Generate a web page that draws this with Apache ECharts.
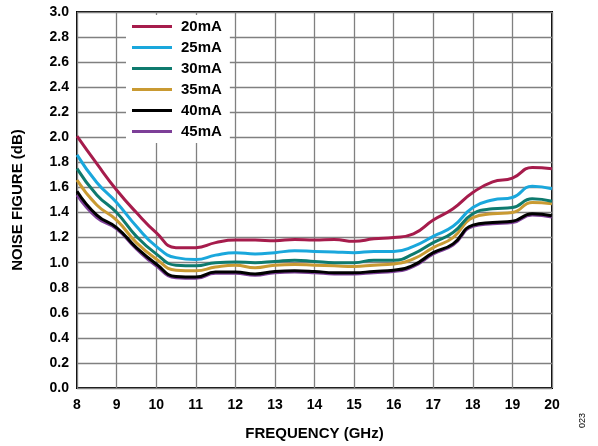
<!DOCTYPE html>
<html><head><meta charset="utf-8">
<script src="https://cdn.jsdelivr.net/npm/echarts@6/dist/echarts.min.js"></script>
<style>html,body{margin:0;padding:0;background:#fff}#c{width:598px;height:446px}</style>
</head><body><div id="c"></div>
<script>
var freqs = [8,8.5,9,9.5,10,10.5,11,11.5,12,12.5,13,13.5,14,14.5,15,15.5,16,16.5,17,17.5,18,18.5,19,19.5,20];
var nf20 = [2.01,1.79,1.58,1.40,1.24,1.12,1.12,1.16,1.18,1.18,1.175,1.185,1.18,1.185,1.17,1.19,1.20,1.23,1.34,1.43,1.56,1.645,1.675,1.76,1.75];
var nf25 = [1.86,1.64,1.48,1.29,1.13,1.04,1.025,1.06,1.08,1.07,1.08,1.095,1.09,1.085,1.08,1.09,1.09,1.13,1.21,1.29,1.44,1.50,1.52,1.61,1.59];
var nf30 = [1.75,1.54,1.40,1.21,1.07,0.98,0.975,1.00,1.005,1.00,1.01,1.02,1.01,1.00,1.00,1.02,1.02,1.07,1.16,1.24,1.39,1.43,1.44,1.51,1.49];
var nf35 = [1.66,1.46,1.34,1.16,1.03,0.94,0.935,0.965,0.98,0.96,0.98,0.985,0.98,0.975,0.97,0.98,0.99,1.03,1.12,1.20,1.36,1.39,1.40,1.48,1.47];
var nf40 = [1.57,1.38,1.28,1.12,0.99,0.89,0.885,0.925,0.925,0.91,0.93,0.935,0.93,0.92,0.92,0.93,0.94,0.98,1.08,1.15,1.30,1.32,1.33,1.39,1.375];
var nf45 = [1.54,1.36,1.27,1.11,0.975,0.88,0.875,0.915,0.915,0.90,0.92,0.925,0.92,0.91,0.91,0.92,0.93,0.97,1.07,1.14,1.29,1.31,1.32,1.38,1.365];
var names = ['20mA','25mA','30mA','35mA','40mA','45mA'];
var colors = ['#A61C4C','#1AA7DC','#0E7A6E','#C99A32','#000000','#7D3F98'];

function pairs(v){ return freqs.map(function(f,i){ return [f, v[i]]; }); }
var allData = [nf20, nf25, nf30, nf35, nf40, nf45];
var zs = [6,5,4,3,2,1];
var series = names.map(function(n,i){
  return {name:n, type:'line', data:pairs(allData[i]), smooth:0.5, showSymbol:false, symbol:'none',
    lineStyle:{color:colors[i], width:3}, itemStyle:{color:colors[i]}, z:zs[i]};
});

var chart = echarts.init(document.getElementById('c'), null, {renderer:'canvas'});
var font = 'Liberation Sans, Arial, sans-serif';
chart.setOption({
  animation:false,
  backgroundColor:'#fff',
  grid:{left:77, right:46, top:12, bottom:57, show:true, borderColor:'#000', borderWidth:2},
  legend:{
    data:names, orient:'vertical', left:126, top:15, backgroundColor:'#fff',
    padding:[4,8,4,6], icon:'rect', itemWidth:40, itemHeight:3, itemGap:6,
    textStyle:{fontFamily:font, fontWeight:'bold', fontSize:15, color:'#000', padding:[0,0,0,4], lineHeight:15}
  },
  xAxis:{type:'value', min:8, max:20, interval:1,
    name:'FREQUENCY (GHz)', nameLocation:'middle', nameGap:38,
    nameTextStyle:{fontFamily:font, fontWeight:'bold', fontSize:15, color:'#000'},
    axisLine:{show:false}, axisTick:{show:false},
    axisLabel:{fontFamily:font, fontWeight:'bold', fontSize:14, color:'#000', margin:10},
    splitLine:{show:true, lineStyle:{color:'#808080', width:1.3}}
  },
  yAxis:{type:'value', min:0, max:3, interval:0.2,
    name:'NOISE FIGURE (dB)', nameLocation:'middle', nameGap:52,
    nameTextStyle:{fontFamily:font, fontWeight:'bold', fontSize:15, color:'#000'},
    axisLine:{show:false}, axisTick:{show:false},
    axisLabel:{fontFamily:font, fontWeight:'bold', fontSize:14, color:'#000', margin:8,
      formatter:function(v){return v.toFixed(1);}},
    splitLine:{show:true, lineStyle:{color:'#808080', width:1.3}}
  },
  graphic:[{type:'text', left:578, top:413, rotation:Math.PI/2,
    style:{text:'023', fontFamily:font, fontSize:9, fill:'#000'}}],
  series:series
});
</script></body></html>
